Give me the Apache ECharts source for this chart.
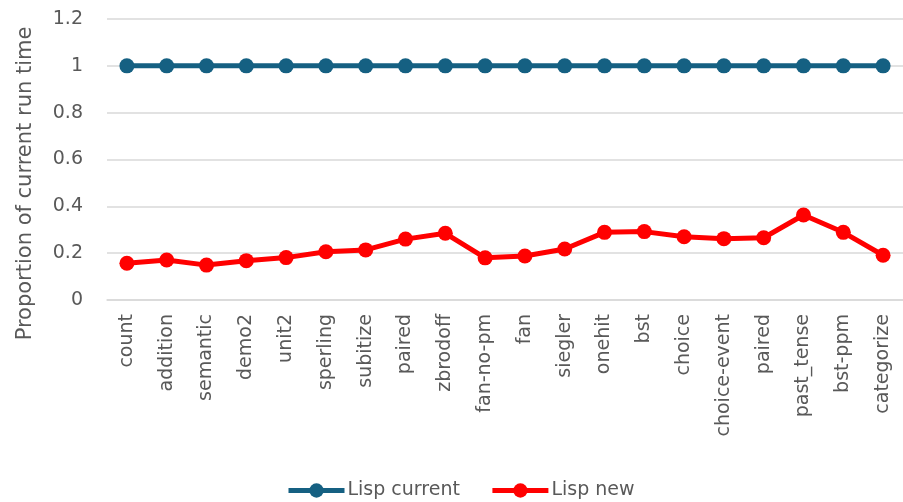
<!DOCTYPE html>
<html>
<head>
<meta charset="utf-8">
<script src="https://cdn.jsdelivr.net/npm/echarts@6/dist/echarts.min.js"></script>
<style>
html,body{margin:0;padding:0;background:#fff;}
#main{width:903px;height:502px;}
</style>
</head>
<body>
<div id="main"></div>
<script>
const categories = ["count","addition","semantic","demo2","unit2","sperling","subitize","paired","zbrodoff","fan-no-pm","fan","siegler","onehit","bst","choice","choice-event","paired","past_tense","bst-ppm","categorize"];
const lispCurrent = [1,1,1,1,1,1,1,1,1,1,1,1,1,1,1,1,1,1,1,1];
const lispNew = [0.157,0.171,0.149,0.168,0.181,0.206,0.214,0.260,0.285,0.180,0.188,0.218,0.289,0.292,0.270,0.262,0.266,0.363,0.289,0.191];
const yTicks = {min:0, max:1.2, interval:0.2};

const FONT = "DejaVu Sans";
const TXT = "#595959";
const chart = echarts.init(document.getElementById('main'), null, {renderer:'canvas'});
chart.setOption({
  animation:false,
  backgroundColor:'#fff',
  textStyle:{fontFamily:FONT},
  grid:{left:107, top:19, width:800, height:281, containLabel:false},
  legend:{
    left:281, top:476,
    itemWidth:56, itemHeight:18, itemGap:30,
    lineStyle:{width:5},
    textStyle:{fontFamily:FONT, fontSize:19, color:TXT, padding:[0,0,0,-2]},
    data:['Lisp current','Lisp new']
  },
  xAxis:{
    type:'category', data:categories, boundaryGap:true,
    axisLine:{show:true, lineStyle:{color:'#d9d9d9', width:1.5}},
    axisTick:{show:false},
    axisLabel:{interval:0, rotate:90, margin:14, fontFamily:FONT, fontSize:19, color:TXT}
  },
  yAxis:{
    type:'value', min:yTicks.min, max:yTicks.max, interval:yTicks.interval,
    name:'Proportion of current run time', nameLocation:'middle', nameRotate:90, nameGap:71,
    nameTextStyle:{fontFamily:FONT, fontSize:21, color:TXT, padding:[0,48,0,0]},
    axisLine:{show:false}, axisTick:{show:false},
    axisLabel:{margin:24, fontFamily:FONT, fontSize:19, color:TXT},
    splitLine:{lineStyle:{color:'#d9d9d9', width:1.5}}
  },
  series:[
    {name:'Lisp current', type:'line', data:lispCurrent, symbol:'circle', symbolSize:15,
     lineStyle:{color:'#156082', width:5}, itemStyle:{color:'#156082'}},
    {name:'Lisp new', type:'line', data:lispNew, symbol:'circle', symbolSize:15,
     lineStyle:{color:'#ff0000', width:5}, itemStyle:{color:'#ff0000'}}
  ]
});
</script>
</body>
</html>
